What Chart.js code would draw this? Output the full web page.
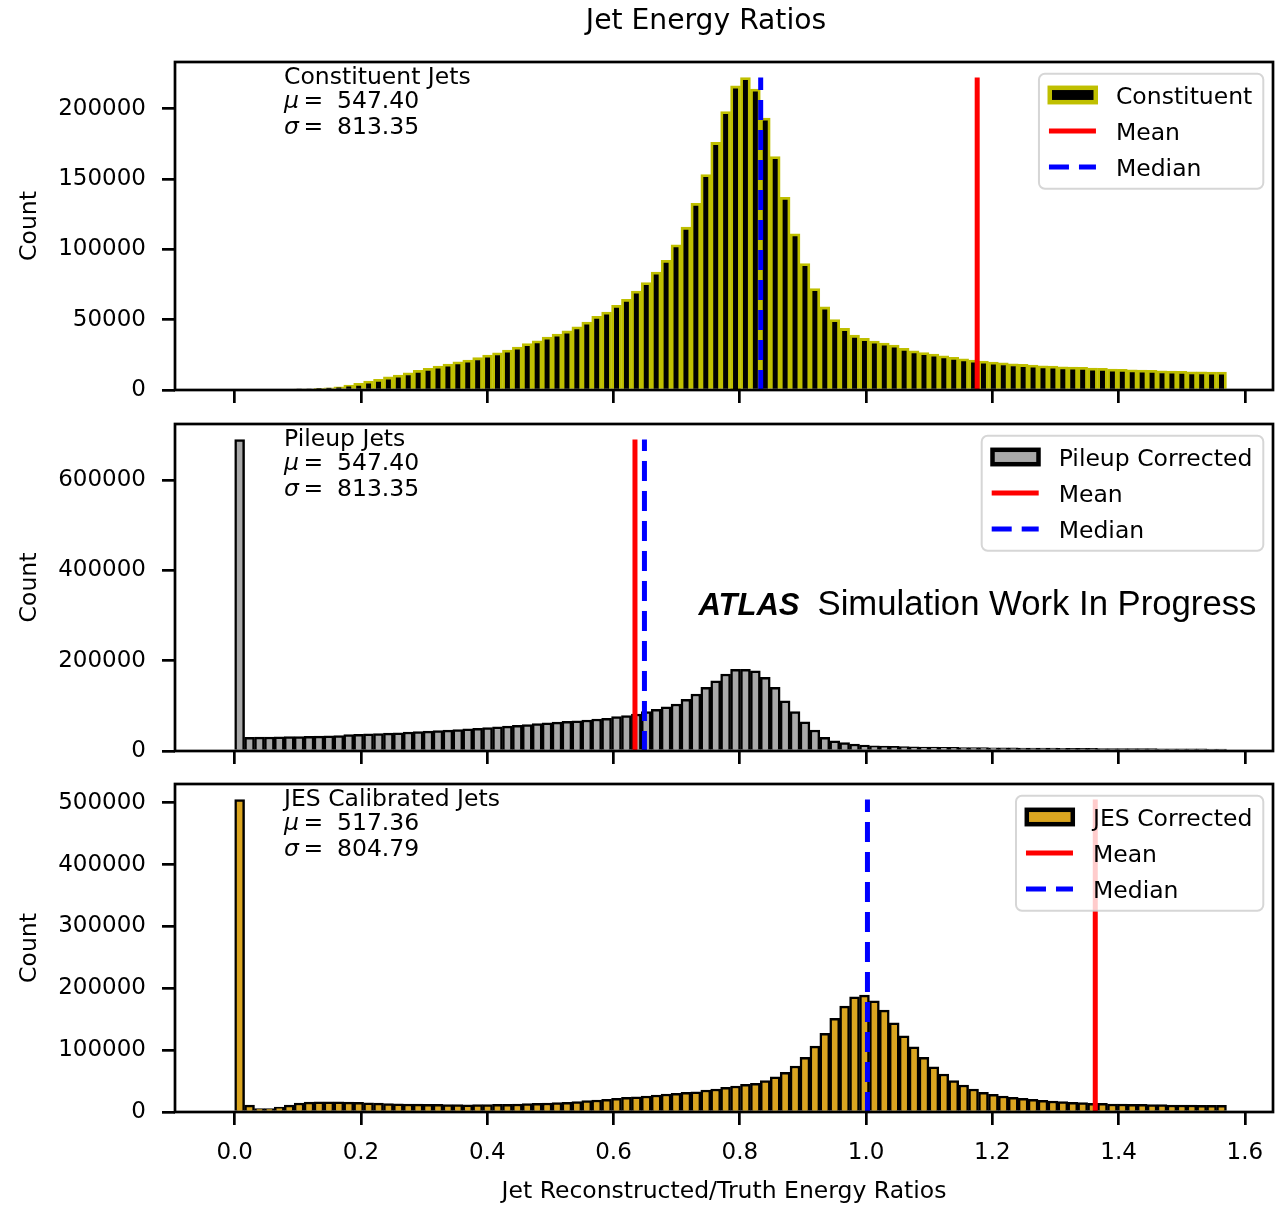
<!DOCTYPE html>
<html>
<head>
<meta charset="utf-8">
<title>Jet Energy Ratios</title>
<script src="https://cdn.jsdelivr.net/npm/chart.js@4.4.1/dist/chart.umd.min.js"></script>
<style>
  html, body { margin: 0; background: #fff; overflow: hidden; }
  #figure { position: relative; width: 1286px; height: 1205px; }
  #figure canvas { position: absolute; left: 0; }
</style>
</head>
<body>
<div id="figure">
  <canvas id="constituent" width="1286" height="420" style="top:0"></canvas>
  <canvas id="pileup" width="1286" height="387" style="top:394px"></canvas>
  <canvas id="jes" width="1286" height="451" style="top:754px"></canvas>
</div>
<script>
// 100 bins covering 0 .. pi/2
const BIN_WIDTH = 0.015708;
const binCenters = Array.from({ length: 100 }, (_, i) => (i + 0.5) * BIN_WIDTH);
const X_MIN = -0.0945;
const X_MAX = 1.6445;
const xTickStep = 0.2;

const constituentCounts = [
  0, 0, 0, 0, 0, 0, 100, 400, 1200, 1600,
  2300, 3500, 4700, 6300, 7600, 9300, 10600, 12300, 14000, 15400,
  17000, 18400, 20000, 21300, 23000, 24800, 26500, 28400, 30600, 33000,
  35000, 37600, 39800, 42000, 44900, 48400, 52400, 55500, 60300, 64500,
  70400, 76400, 83900, 92200, 103300, 115800, 132800, 153200, 176100, 198100,
  216300, 222200, 214000, 193400, 166000, 137100, 111100, 89900, 72100, 59100,
  50100, 43800, 39000, 36700, 34800, 33400, 31900, 29600, 27900, 26700,
  25500, 24300, 23200, 22200, 21300, 20600, 19900, 19400, 18700, 18200,
  17700, 17200, 17000, 16500, 16300, 16100, 15600, 15400, 14900, 14700,
  14400, 14200, 14000, 13700, 13500, 13300, 13000, 13000, 12800, 12800
];

const pileupCounts = [
  690000, 30500, 30800, 31000, 31400, 31700, 32100, 32500, 33000, 33500,
  34200, 36500, 37200, 38000, 38800, 39600, 40500, 42000, 43000, 44100,
  45200, 46400, 47500, 49000, 50500, 52000, 53500, 55000, 56700, 58500,
  60500, 62500, 64000, 65500, 66800, 68700, 70900, 72400, 76000, 78200,
  81900, 87100, 92300, 98100, 104100, 114500, 126300, 141100, 155700, 170600,
  181000, 181000, 177900, 163200, 141100, 111400, 87100, 64900, 46500, 30300,
  22800, 18400, 15500, 13300, 11700, 11100, 10400, 9800, 9300, 8900,
  8600, 8300, 8000, 7800, 7600, 7400, 7200, 7000, 6800, 6700,
  6500, 6400, 6200, 6100, 6000, 5900, 5700, 5600, 5500, 5400,
  5300, 5200, 5100, 5000, 4900, 4800, 4700, 4600, 4500, 4400
];

const jesCounts = [
  505000, 11000, 5500, 5500, 8000, 11000, 14500, 16000, 16500, 16500,
  16500, 16000, 15500, 14800, 14300, 13800, 13300, 13000, 12800, 12500,
  12300, 12000, 11800, 11700, 11800, 12000, 12200, 12500, 13000, 13500,
  14000, 14500, 15200, 15700, 16700, 18300, 19400, 20500, 22100, 23700,
  24700, 25800, 27500, 29100, 30200, 31800, 32800, 35500, 37200, 39900,
  42000, 44700, 46400, 50600, 57000, 64100, 74300, 88400, 106600, 127100,
  151400, 171200, 186300, 189000, 179800, 164800, 144300, 123300, 105500, 88400,
  73200, 61400, 50600, 43600, 37200, 31800, 28600, 25800, 23700, 22100,
  20500, 18900, 17800, 16700, 15700, 15100, 14000, 14000, 12900, 12900,
  12400, 12400, 11800, 11800, 11300, 11300, 11300, 10800, 10800, 10800
];

const panelTitles = ['Constituent Jets', 'Pileup Jets', 'JES Calibrated Jets'];
const histLabels = ['Constituent', 'Pileup Corrected', 'JES Corrected'];
const muValues = ['547.40', '547.40', '517.36'];
const sigmaValues = ['813.35', '813.35', '804.79'];
const meanRatios = [1.1760, 0.6340, 1.3630];
const medianRatios = [0.8331, 0.6490, 1.0022];
const yTickValues = [
  [0, 50000, 100000, 150000, 200000],
  [0, 200000, 400000, 600000],
  [0, 100000, 200000, 300000, 400000, 500000]
];

const FONT = "'DejaVu Sans'";
const TEXT_SIZE = 23.5;
Chart.defaults.font.family = FONT;
Chart.defaults.font.size = 23;
Chart.defaults.color = '#000';

function drawStats(ctx, area, idx) {
  ctx.fillStyle = '#000';
  ctx.textAlign = 'left';
  ctx.textBaseline = 'alphabetic';
  ctx.font = `${TEXT_SIZE}px ${FONT}`;
  ctx.fillText(panelTitles[idx], 284, area.top + 22);
  [['μ', muValues[idx]], ['σ', sigmaValues[idx]]].forEach(([sym, val], k) => {
    const y = area.top + 46 + 25.5 * k;
    ctx.font = `italic ${TEXT_SIZE}px ${FONT}`;
    ctx.fillText(sym, 284, y);
    ctx.font = `${TEXT_SIZE}px ${FONT}`;
    ctx.fillText('=', 303.5, y);
    ctx.fillText(val, 337, y);
  });
}

// matplotlib-like legend box in the upper right corner
function drawLegend(ctx, area, datasets) {
  ctx.font = `${TEXT_SIZE}px ${FONT}`;
  const textWidth = Math.max(...datasets.map(d => ctx.measureText(d.label).width));
  const w = textWidth + 88;
  const h = 115;
  const x = area.right - 9.7 - w;
  const y = area.top + 11.8;

  ctx.beginPath();
  ctx.roundRect(x, y, w, h, 6);
  ctx.fillStyle = 'rgba(255,255,255,0.8)';
  ctx.fill();
  ctx.lineWidth = 2;
  ctx.strokeStyle = 'rgba(204,204,204,0.8)';
  ctx.stroke();

  datasets.forEach((d, k) => {
    const cy = y + 21.2 + 36 * k;
    if (d.type === 'line') {
      ctx.beginPath();
      ctx.setLineDash(d.borderDash || []);
      ctx.lineWidth = d.borderWidth;
      ctx.strokeStyle = d.borderColor;
      ctx.moveTo(x + 10, cy);
      ctx.lineTo(x + 57, cy);
      ctx.stroke();
      ctx.setLineDash([]);
    } else {
      ctx.fillStyle = d.backgroundColor;
      ctx.fillRect(x + 10.8, cy - 7.2, 46, 14.4);
      ctx.lineWidth = 4.5;
      ctx.strokeStyle = d.borderColor;
      ctx.strokeRect(x + 10.8, cy - 7.2, 46, 14.4);
    }
    ctx.fillStyle = '#000';
    ctx.textAlign = 'left';
    ctx.textBaseline = 'alphabetic';
    ctx.fillText(d.label, x + 77, cy + 8.5);
  });
}

function tickGrid() {
  return { drawOnChartArea: false, drawTicks: true, tickLength: 13, lineWidth: 2.7, color: '#000', offset: false };
}

function histogramChart(canvasId, idx, counts, fill, edge, edgeWidth, padTop, xAxisHeight, showXLabels) {
  const peak = Math.max(...counts);

  const decor = {
    id: 'decor',
    afterDatasetsDraw(chart) {
      const { ctx, chartArea: area } = chart;
      ctx.save();
      // axes frame
      ctx.lineWidth = 2.7;
      ctx.strokeStyle = '#000';
      ctx.strokeRect(area.left, area.top, area.right - area.left, area.bottom - area.top);

      drawStats(ctx, area, idx);
      drawLegend(ctx, area, chart.data.datasets);

      if (idx === 0) {
        ctx.fillStyle = '#000';
        ctx.font = `28.2px ${FONT}`;
        ctx.textAlign = 'center';
        ctx.textBaseline = 'middle';
        ctx.fillText('Jet Energy Ratios', 706, 22);
      }
      if (idx === 1) {
        const base = 615 - 394;
        ctx.fillStyle = '#000';
        ctx.textAlign = 'left';
        ctx.textBaseline = 'alphabetic';
        ctx.font = "italic bold 31px 'Liberation Sans'";
        ctx.fillText('ATLAS', 698.5, base);
        ctx.font = "34.7px 'Liberation Sans'";
        ctx.fillText('Simulation Work In Progress', 817.5, base);
      }
      ctx.restore();
    }
  };

  return new Chart(document.getElementById(canvasId), {
    type: 'bar',
    data: {
      datasets: [
        {
          label: histLabels[idx],
          data: counts.map((c, i) => ({ x: binCenters[i], y: c })),
          backgroundColor: fill,
          borderColor: edge,
          borderWidth: edgeWidth,
          barPercentage: 1,
          categoryPercentage: 1,
          order: 3
        },
        {
          type: 'line',
          label: 'Mean',
          data: [{ x: meanRatios[idx], y: 0 }, { x: meanRatios[idx], y: peak }],
          borderColor: '#ff0000',
          borderWidth: 5,
          pointRadius: 0,
          order: 2
        },
        {
          type: 'line',
          label: 'Median',
          data: [{ x: medianRatios[idx], y: 0 }, { x: medianRatios[idx], y: peak }],
          borderColor: '#0000ff',
          borderWidth: 5,
          borderDash: [20, 10],
          pointRadius: 0,
          order: 1
        }
      ]
    },
    options: {
      responsive: false,
      animation: false,
      devicePixelRatio: 1,
      events: [],
      layout: { padding: { top: padTop, right: 13, bottom: 0, left: 0 } },
      plugins: { legend: { display: false }, tooltip: { enabled: false } },
      scales: {
        x: {
          type: 'linear',
          min: X_MIN,
          max: X_MAX,
          offset: false,
          grid: tickGrid(),
          border: { display: false },
          ticks: {
            display: showXLabels,
            stepSize: xTickStep,
            includeBounds: false,
            autoSkip: false,
            maxRotation: 0,
            padding: 14,
            callback: v => v.toFixed(1)
          },
          title: {
            display: showXLabels,
            text: 'Jet Reconstructed/Truth Energy Ratios',
            font: { size: TEXT_SIZE },
            padding: { top: 0, bottom: -0.8 }
          },
          afterFit: s => { s.height = xAxisHeight; }
        },
        y: {
          type: 'linear',
          min: 0,
          max: peak * 1.05,
          grid: tickGrid(),
          border: { display: false },
          afterBuildTicks: s => { s.ticks = yTickValues[idx].map(v => ({ value: v })); },
          ticks: {
            padding: 16,
            callback: v => String(v)
          },
          title: { display: true, text: 'Count', font: { size: TEXT_SIZE }, padding: { top: 16, bottom: 0 } },
          afterFit: s => { s.width = 175; }
        }
      }
    },
    plugins: [decor]
  });
}

histogramChart('constituent', 0, constituentCounts, '#000000', '#bfbf00', 2.8, 62, 30, false);
histogramChart('pileup', 1, pileupCounts, '#a9a9a9', '#000000', 2.5, 30, 30, false);
histogramChart('jes', 2, jesCounts, '#daa520', '#000000', 2.5, 30, 93, true);
</script>
</body>
</html>
